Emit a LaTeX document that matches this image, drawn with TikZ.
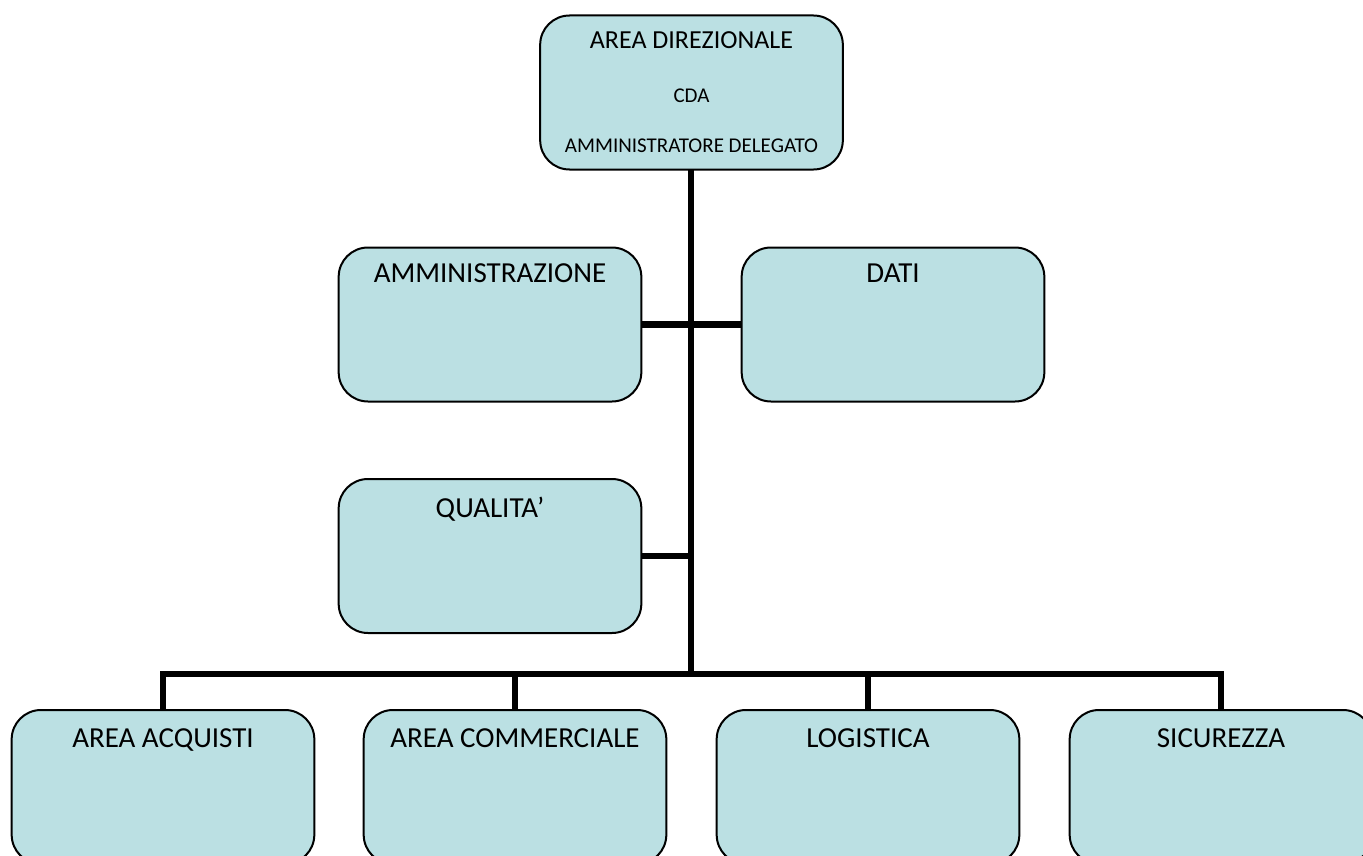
\documentclass[tikz,border=0pt]{standalone}
\usepackage{fontspec}
\setmainfont{Carlito}
\definecolor{boxfill}{RGB}{187,224,227}
\tikzset{
  x=0.75pt, y=-0.75pt,
  orgbox/.style={draw=black, line width=1.5pt, fill=boxfill, rounded corners=22pt,
    rectangle, minimum width=227pt, minimum height=115.5pt, inner sep=0pt, outer sep=0pt},
  bigtxt/.style={font=\fontsize{21.75pt}{24pt}\selectfont, anchor=base, inner sep=0pt},
  midtxt/.style={font=\fontsize{19.5pt}{22pt}\selectfont, anchor=base, inner sep=0pt},
  smalltxt/.style={font=\fontsize{15.75pt}{18pt}\selectfont, anchor=base, inner sep=0pt},
  conn/.style={line width=5pt, line join=miter, draw=black}
}
\begin{document}
\begin{tikzpicture}
\useasboundingbox (0,0) rectangle (1363,856);
\clip (0,0) rectangle (1363,856);
\fill[white] (0,0) rectangle (1363,856);

% boxes
\node[orgbox] (top) at (691.5,92.5) {};
\node[orgbox] (amm) at (490,324.5) {};
\node[orgbox] (dati) at (893,324.5) {};
\node[orgbox] (qual) at (490,556) {};
\node[orgbox] (acq) at (163,787) {};
\node[orgbox] (comm) at (515,787) {};
\node[orgbox] (log) at (868,787) {};
\node[orgbox] (sic) at (1221,787) {};

\coordinate (j) at (691,674);
\coordinate (topout) at (691,169);

% connectors
\draw[conn] (topout) -- (j);
\draw[conn] (amm.east) -- (dati.west);
\draw[conn] (qual.east) -- (qual.east -| j);
\draw[conn] (acq.north) |- (j) -| (sic.north);
\draw[conn] (comm.north) -- (comm.north |- j);
\draw[conn] (log.north) -- (log.north |- j);

% texts
\node[midtxt] (t1) at ([yshift=-33*0.75pt]top.north) {AREA DIREZIONALE};
\node[smalltxt] (t2) at (691.5,103) {CDA};
\node[smalltxt] (t3) at (691.5,152) {AMMINISTRATORE DELEGATO};
\node[bigtxt] (tamm) at ([yshift=-35*0.75pt]amm.north) {AMMINISTRAZIONE};
\node[bigtxt] (tdati) at ([yshift=-35*0.75pt]dati.north) {DATI};
\node[bigtxt] (tqual) at ([yshift=-38*0.75pt]qual.north) {QUALITA’};
\node[bigtxt] (tacq) at ([yshift=-37*0.75pt]acq.north) {AREA ACQUISTI};
\node[bigtxt] (tcomm) at ([yshift=-37*0.75pt]comm.north) {AREA COMMERCIALE};
\node[bigtxt] (tlog) at ([yshift=-37*0.75pt]log.north) {LOGISTICA};
\node[bigtxt] (tsic) at ([yshift=-37*0.75pt]sic.north) {SICUREZZA};
\end{tikzpicture}
\end{document}
